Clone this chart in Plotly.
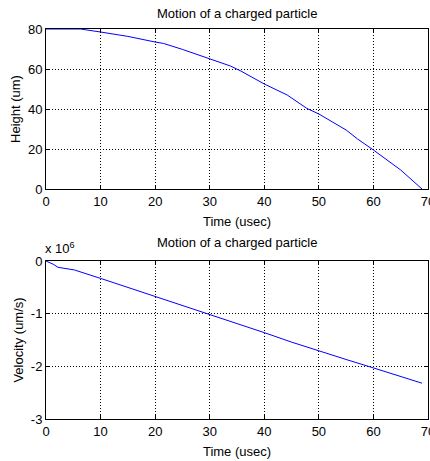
import plotly.graph_objects as go

# ---- data ----
time_h = [0, 6.3, 10, 15, 20, 21.5, 25, 30, 33.8, 35.7, 40, 44.2, 47.8, 50, 55, 57.1, 60, 65, 68.9]
height_um = [80, 80, 78.5, 76.3, 73.5, 72.8, 69.8, 65.3, 61.5, 59, 52.5, 47, 40.3, 37.5, 29.5, 25, 19.5, 9.5, 0]

time_v = [0, 1.3, 2.2, 5.2, 10, 15, 20, 25, 30, 35, 40, 45, 50, 55, 60, 65, 68.9]
velocity_um_s = [0, -0.06e6, -0.12e6, -0.17e6, -0.33e6, -0.5e6, -0.67e6, -0.84e6, -1.01e6, -1.19e6,
                 -1.36e6, -1.54e6, -1.71e6, -1.87e6, -2.03e6, -2.19e6, -2.32e6]

x_ticks = [0, 10, 20, 30, 40, 50, 60, 70]
h_ticks = [0, 20, 40, 60, 80]
v_ticks = [-3e6, -2e6, -1e6, 0]
v_ticktext = ["-3", "-2", "-1", "0"]

title_text = "Motion of a charged particle"
FONT = "Liberation Sans Narrow, Liberation Sans, Arial, sans-serif"

fig = go.Figure()
fig.add_trace(go.Scatter(x=time_h, y=height_um, mode="lines",
                         line=dict(color="#0000ff", width=1), xaxis="x", yaxis="y",
                         showlegend=False))
fig.add_trace(go.Scatter(x=time_v, y=velocity_um_s, mode="lines",
                         line=dict(color="#0000ff", width=1), xaxis="x2", yaxis="y2",
                         showlegend=False))

axis_common = dict(showline=True, linecolor="black", linewidth=1, mirror="ticks",
                   ticks="inside", ticklen=4, tickcolor="black",
                   showgrid=True, gridcolor="black", griddash="1px,2px", gridwidth=1,
                   zeroline=False, automargin=False, ticklabeloverflow="allow",
                   tickfont=dict(family=FONT, size=13, color="black"))

top_bottom = 1 - 160 / 390
bot_top = 1 - (261 - 29) / 390

fig.update_layout(
    width=430, height=461,
    margin=dict(l=46, r=2, t=29, b=42),
    paper_bgcolor="white", plot_bgcolor="white",
    font=dict(family=FONT, size=13, color="black"),
    xaxis=dict(domain=[0, 1], range=[0, 70], tickvals=x_ticks, anchor="y",
               title=dict(text="Time (usec)", standoff=9, font=dict(size=13)), **axis_common),
    yaxis=dict(domain=[top_bottom, 1], range=[0, 80], tickvals=h_ticks, anchor="x",
               title=dict(text="Height (um)", standoff=4, font=dict(size=13)), **axis_common),
    xaxis2=dict(domain=[0, 1], range=[0, 70], tickvals=x_ticks, anchor="y2",
                title=dict(text="Time (usec)", standoff=9, font=dict(size=13)), **axis_common),
    yaxis2=dict(domain=[0, bot_top], range=[-3e6, 0], tickvals=v_ticks, ticktext=v_ticktext,
                anchor="x2",
                title=dict(text="Velocity (um/s)", standoff=4, font=dict(size=13)), **axis_common),
    annotations=[
        dict(text=title_text, x=0.5, y=1, xref="paper", yref="paper", xanchor="center",
             yanchor="bottom", yshift=6, showarrow=False, font=dict(family=FONT, size=13)),
        dict(text=title_text, x=0.5, y=bot_top, xref="paper", yref="paper", xanchor="center",
             yanchor="bottom", yshift=9, showarrow=False, font=dict(family=FONT, size=13)),
        dict(text="x 10<sup>6</sup>", x=0, y=bot_top, xref="paper", yref="paper",
             xanchor="left", yanchor="bottom", xshift=-3, yshift=3, showarrow=False,
             font=dict(family=FONT, size=13)),
    ],
)

fig.write_html("out.html", config={"displayModeBar": False},
               post_script="document.body.style.margin='0';document.body.style.overflow='hidden';")
